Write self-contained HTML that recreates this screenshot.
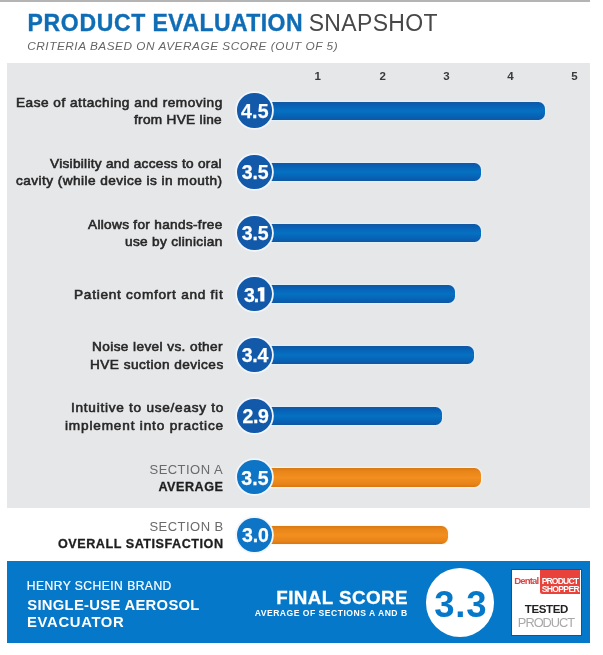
<!DOCTYPE html>
<html><head><meta charset="utf-8"><title>Product Evaluation Snapshot</title>
<style>
html,body{margin:0;padding:0;background:#fff;}
body{width:603px;height:655px;position:relative;overflow:hidden;font-family:"Liberation Sans",sans-serif;}
.a{position:absolute;white-space:nowrap;line-height:1;transform-origin:0 0;}
.bar{position:absolute;height:18.3px;border-radius:0 6.5px 6.5px 0;}
.bb{background:linear-gradient(#13579f 0%,#075fb4 16%,#0671c1 50%,#0760b4 84%,#12569c 100%);box-shadow:0 0 1.6px 0.8px rgba(228,241,255,1);}
.bo{background:linear-gradient(#d97913 0%,#e88419 16%,#f28f1f 50%,#e88419 84%,#d87712 100%);box-shadow:0 0 1.6px 0.8px rgba(255,246,236,1);}
.circ{position:absolute;width:34.2px;height:34.2px;border-radius:50%;box-shadow:0 0 0 1.8px #f1f6fc;}
body>*{filter:blur(0.4px);}
.cb{background:#1259aa;}
.co{background:#0e74c6;}
</style></head><body>
<div style="position:absolute;left:0;top:0;width:590px;height:1.5px;background:#b4b4b4"></div>
<div style="position:absolute;left:7.3px;top:62.7px;width:582.6px;height:445.0px;background:#e6e7e9"></div>
<div style="position:absolute;left:7.3px;top:561.4px;width:582.5px;height:81.3px;background:#0578c9"></div>
<div style="position:absolute;left:425.6px;top:568px;width:68.8px;height:68.8px;border-radius:50%;background:#fff"></div>
<div style="position:absolute;left:511.4px;top:569.0px;width:70.5px;height:66.9px;background:#fff;border:1px solid #1b4f8e;box-sizing:border-box"></div>
<div style="position:absolute;left:540.3px;top:570.2px;width:39.9px;height:23.9px;background:#e9423b;border-radius:0 0 0 2.5px"></div>

<div class="bar bb" style="left:262px;top:101.50px;width:282.8px"></div>
<div class="circ cb" style="left:237.4px;top:93.4px"></div>
<div class="bar bb" style="left:262px;top:162.60px;width:218.6px"></div>
<div class="circ cb" style="left:237.4px;top:154.5px"></div>
<div class="bar bb" style="left:262px;top:223.80px;width:218.6px"></div>
<div class="circ cb" style="left:237.4px;top:215.7px"></div>
<div class="bar bb" style="left:262px;top:285.00px;width:192.9px"></div>
<div class="circ cb" style="left:237.4px;top:276.9px"></div>
<div class="bar bb" style="left:262px;top:346.00px;width:212.2px"></div>
<div class="circ cb" style="left:237.4px;top:337.9px"></div>
<div class="bar bb" style="left:262px;top:407.10px;width:180.1px"></div>
<div class="circ cb" style="left:237.4px;top:399.0px"></div>
<div class="bar bo" style="left:262px;top:468.40px;width:218.6px"></div>
<div class="circ co" style="left:237.4px;top:460.3px"></div>
<div class="bar bo" style="left:262px;top:525.60px;width:185.8px"></div>
<div class="circ co" style="left:237.4px;top:517.5px"></div>
<span class="a" id="t1" style="left:27.50px;top:11.53px;font-size:23px;color:#0f6db6;letter-spacing:0.688px;font-weight:bold;-webkit-text-stroke:0.35px #0f6db6;">PRODUCT</span>
<span class="a" id="t1b" style="left:152.60px;top:11.53px;font-size:23px;color:#0f6db6;letter-spacing:0.427px;font-weight:bold;-webkit-text-stroke:0.35px #0f6db6;">EVALUATION</span>
<span class="a" id="t2" style="left:308.65px;top:11.53px;font-size:23px;color:#484848;letter-spacing:0.341px;">SNAPSHOT</span>
<span class="a" id="t3" style="left:27.25px;top:41.01px;font-size:11.8px;color:#666;letter-spacing:0.529px;font-style:italic;">CRITERIA BASED ON AVERAGE SCORE (OUT OF 5)</span>
<span class="a" id="l0a" style="left:15.50px;top:96.70px;font-size:12.4px;color:#272727;letter-spacing:0.456px;transform:scaleX(1.1);-webkit-text-stroke:0.55px #272727;">Ease of attaching and removing</span>
<span class="a" id="l0b" style="left:134.00px;top:113.70px;font-size:12.4px;color:#272727;letter-spacing:0.274px;transform:scaleX(1.1);-webkit-text-stroke:0.55px #272727;">from HVE line</span>
<span class="a" id="l1a" style="left:50.40px;top:157.70px;font-size:12.4px;color:#272727;letter-spacing:0.267px;transform:scaleX(1.1);-webkit-text-stroke:0.55px #272727;">Visibility and access to oral</span>
<span class="a" id="l1b" style="left:16.18px;top:174.70px;font-size:12.4px;color:#272727;letter-spacing:0.408px;transform:scaleX(1.1);-webkit-text-stroke:0.55px #272727;">cavity (while device is in mouth)</span>
<span class="a" id="l2a" style="left:88.00px;top:218.70px;font-size:12.4px;color:#272727;letter-spacing:0.285px;transform:scaleX(1.1);-webkit-text-stroke:0.55px #272727;">Allows for hands-free</span>
<span class="a" id="l2b" style="left:125.25px;top:235.70px;font-size:12.4px;color:#272727;letter-spacing:0.293px;transform:scaleX(1.1);-webkit-text-stroke:0.55px #272727;">use by clinician</span>
<span class="a" id="l3a" style="left:73.90px;top:288.70px;font-size:12.4px;color:#272727;letter-spacing:0.665px;transform:scaleX(1.1);-webkit-text-stroke:0.55px #272727;">Patient comfort and fit</span>
<span class="a" id="l4a" style="left:92.20px;top:340.70px;font-size:12.4px;color:#272727;letter-spacing:0.358px;transform:scaleX(1.1);-webkit-text-stroke:0.55px #272727;">Noise level vs. other</span>
<span class="a" id="l4b" style="left:89.70px;top:358.85px;font-size:12.4px;color:#272727;letter-spacing:0.414px;transform:scaleX(1.1);-webkit-text-stroke:0.55px #272727;">HVE suction devices</span>
<span class="a" id="l5a" style="left:71.07px;top:401.70px;font-size:12.4px;color:#272727;letter-spacing:0.665px;transform:scaleX(1.1);-webkit-text-stroke:0.55px #272727;">Intuitive to use/easy to</span>
<span class="a" id="l5b" style="left:64.92px;top:419.85px;font-size:12.4px;color:#272727;letter-spacing:0.744px;transform:scaleX(1.1);-webkit-text-stroke:0.55px #272727;">implement into practice</span>
<span class="a" id="sa1" style="left:149.50px;top:462.79px;font-size:13px;color:#6a6a6a;letter-spacing:0.463px;">SECTION A</span>
<span class="a" id="sa2" style="left:158.40px;top:481.33px;font-size:12.6px;color:#1e1e1e;letter-spacing:0.526px;font-weight:bold;-webkit-text-stroke:0.3px #1e1e1e;">AVERAGE</span>
<span class="a" id="sb1" style="left:149.42px;top:520.39px;font-size:13px;color:#6a6a6a;letter-spacing:0.475px;">SECTION B</span>
<span class="a" id="sb2" style="left:57.99px;top:538.33px;font-size:12.6px;color:#1e1e1e;letter-spacing:0.534px;font-weight:bold;-webkit-text-stroke:0.3px #1e1e1e;">OVERALL SATISFACTION</span>
<span class="a" id="h1" style="left:26.80px;top:580.35px;font-size:12.1px;color:#fff;letter-spacing:0.463px;-webkit-text-stroke:0.2px #fff;">HENRY SCHEIN BRAND</span>
<span class="a" id="h2" style="left:27.25px;top:597.97px;font-size:14.8px;color:#fff;letter-spacing:0.293px;font-weight:bold;">SINGLE-USE AEROSOL</span>
<span class="a" id="h3" style="left:27.07px;top:615.27px;font-size:14.8px;color:#fff;letter-spacing:0.679px;font-weight:bold;">EVACUATOR</span>
<span class="a" id="f1" style="left:276.35px;top:589.48px;font-size:18.8px;color:#fff;letter-spacing:0.419px;font-weight:bold;-webkit-text-stroke:0.3px #fff;">FINAL SCORE</span>
<span class="a" id="f2" style="left:254.63px;top:609.02px;font-size:8.6px;color:#fff;letter-spacing:0.491px;font-weight:bold;">AVERAGE OF SECTIONS A AND B</span>
<span class="a" id="fs" style="left:434.23px;top:586.70px;font-size:36.5px;color:#0578c9;letter-spacing:0.779px;font-weight:bold;">3.3</span>
<span class="a" id="ax1" style="left:314.60px;top:70.66px;font-size:11.5px;color:#3a3a3a;letter-spacing:0.000px;font-weight:bold;">1</span>
<span class="a" id="ax2" style="left:379.60px;top:70.66px;font-size:11.5px;color:#3a3a3a;letter-spacing:0.000px;font-weight:bold;">2</span>
<span class="a" id="ax3" style="left:443.30px;top:70.66px;font-size:11.5px;color:#3a3a3a;letter-spacing:0.000px;font-weight:bold;">3</span>
<span class="a" id="ax4" style="left:507.35px;top:70.66px;font-size:11.5px;color:#3a3a3a;letter-spacing:0.000px;font-weight:bold;">4</span>
<span class="a" id="ax5" style="left:571.20px;top:70.66px;font-size:11.5px;color:#3a3a3a;letter-spacing:0.000px;font-weight:bold;">5</span>
<span class="a" id="d1" style="left:514.25px;top:575.87px;font-size:9.6px;color:#dc4446;letter-spacing:-0.881px;font-weight:bold;">Dental</span>
<span class="a" id="d2" style="left:541.65px;top:576.92px;font-size:8.6px;color:#fff;letter-spacing:-0.857px;font-weight:bold;">PRODUCT</span>
<span class="a" id="d3" style="left:541.65px;top:584.62px;font-size:8.6px;color:#fff;letter-spacing:-0.660px;font-weight:bold;">SHOPPER</span>
<span class="a" id="d4" style="left:524.82px;top:604.36px;font-size:11.5px;color:#222;letter-spacing:-0.382px;font-weight:bold;">TESTED</span>
<span class="a" id="d5" style="left:517.87px;top:617.26px;font-size:12.8px;color:#a8a8a8;letter-spacing:-1.000px;">PRODUCT</span>
<span class="a" id="n0" style="left:240.88px;top:102.29px;font-size:19.5px;color:#fff;letter-spacing:0.364px;font-weight:bold;-webkit-text-stroke:0.25px #fff;">4.5</span>
<span class="a" id="n1" style="left:241.67px;top:162.79px;font-size:19.5px;color:#fff;letter-spacing:-0.115px;font-weight:bold;-webkit-text-stroke:0.25px #fff;">3.5</span>
<span class="a" id="n2" style="left:241.67px;top:223.69px;font-size:19.5px;color:#fff;letter-spacing:-0.115px;font-weight:bold;-webkit-text-stroke:0.25px #fff;">3.5</span>
<span class="a" id="n3a" style="left:244.05px;top:285.59px;font-size:19.5px;color:#fff;letter-spacing:0.000px;font-weight:bold;-webkit-text-stroke:0.25px #fff;">3</span>
<span class="a" id="n3b" style="left:253.77px;top:285.59px;font-size:19.5px;color:#fff;letter-spacing:0.000px;font-weight:bold;-webkit-text-stroke:0.25px #fff;">.</span>
<span class="a" id="n4" style="left:241.70px;top:346.19px;font-size:19.5px;color:#fff;letter-spacing:-0.223px;font-weight:bold;-webkit-text-stroke:0.25px #fff;">3.4</span>
<span class="a" id="n5" style="left:242.45px;top:407.29px;font-size:19.5px;color:#fff;letter-spacing:-0.358px;font-weight:bold;-webkit-text-stroke:0.25px #fff;">2.9</span>
<span class="a" id="n6" style="left:241.35px;top:468.59px;font-size:19.5px;color:#fff;letter-spacing:0.024px;font-weight:bold;-webkit-text-stroke:0.25px #fff;">3.5</span>
<span class="a" id="n7" style="left:242.00px;top:525.79px;font-size:19.5px;color:#fff;letter-spacing:-0.106px;font-weight:bold;-webkit-text-stroke:0.25px #fff;">3.0</span>
<svg style="position:absolute;left:0;top:0" width="603" height="655" viewBox="0 0 603 655"><polygon fill="#fff" points="257.8,288.20 260.7,287.20 264.4,287.20 264.4,301.60 260.3,301.60 260.3,290.90 257.8,291.40"/></svg>
</body></html>
